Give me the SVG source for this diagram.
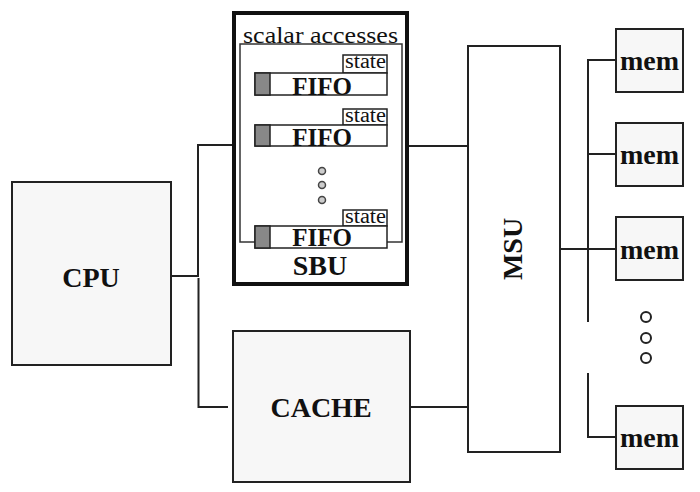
<svg xmlns="http://www.w3.org/2000/svg" width="700" height="492" viewBox="0 0 700 492">
<style>
.box{fill:#f7f7f7;stroke:#222;stroke-width:2}
.wbox{fill:#fff;stroke:#222;stroke-width:2}
.ln{fill:none;stroke:#222;stroke-width:2}
.thin{fill:none;stroke:#333;stroke-width:1.5}
.big{font-family:"Liberation Serif","Times New Roman",serif;font-weight:bold;font-size:28px;fill:#111;text-anchor:middle}
.fifo{font-family:"Liberation Serif","Times New Roman",serif;font-weight:bold;font-size:25px;fill:#111;text-anchor:middle}
.st{font-family:"Liberation Serif","Times New Roman",serif;font-size:20px;fill:#111}
.sa{font-family:"Liberation Serif","Times New Roman",serif;font-size:23px;fill:#111}
.gsq{fill:#888;stroke:#222;stroke-width:1.5}
.fb{fill:#fff;stroke:#222;stroke-width:1.5}
.dotg{fill:#ccc;stroke:#444;stroke-width:1.5}
.dotw{fill:#fff;stroke:#222;stroke-width:2}
</style>
<g id="connectors">
<path class="ln" d="M171,276 H198 V145 H233"/>
<path class="ln" d="M198.5,278 V407 H228"/>
<path class="ln" d="M408,146 H468"/>
<path class="ln" d="M410,407 H468"/>
<path class="ln" d="M560,249 H617"/>
<path class="ln" d="M617,60 H588 V322"/>
<path class="ln" d="M588,154 H617"/>
<path class="ln" d="M588,373 V437 H617"/>
</g>
<g id="cpu">
<rect class="box" x="12" y="182" width="159" height="183"/>
<text class="big" x="91" y="287">CPU</text>
</g>
<g id="sbu">
<rect x="234" y="13" width="173" height="271" fill="#fff" stroke="#111" stroke-width="4"/>
<text class="sa" x="243" y="43" textLength="155" lengthAdjust="spacingAndGlyphs">scalar accesses</text>
<rect class="thin" x="240" y="44" width="162" height="198"/>
<g id="fifo1">
<rect class="fb" x="343" y="55" width="44" height="18"/>
<text class="st" x="345" y="68" textLength="41" lengthAdjust="spacingAndGlyphs">state</text>
<rect class="fb" x="255" y="73" width="132" height="22"/>
<rect class="gsq" x="255" y="73" width="15" height="22"/>
<text class="fifo" x="322" y="95">FIFO</text>
</g>
<g id="fifo2">
<rect class="fb" x="343" y="109" width="44" height="16"/>
<text class="st" x="345" y="122" textLength="41" lengthAdjust="spacingAndGlyphs">state</text>
<rect class="fb" x="255" y="125" width="132" height="21"/>
<rect class="gsq" x="255" y="125" width="15" height="21"/>
<text class="fifo" x="322" y="146">FIFO</text>
</g>
<circle class="dotg" cx="322" cy="171" r="3.5"/>
<circle class="dotg" cx="322" cy="185" r="3.5"/>
<circle class="dotg" cx="322" cy="200" r="3.5"/>
<g id="fifo3">
<rect class="fb" x="343" y="210" width="44" height="16"/>
<text class="st" x="345" y="223" textLength="41" lengthAdjust="spacingAndGlyphs">state</text>
<rect class="fb" x="255" y="226" width="132" height="22"/>
<rect class="gsq" x="255" y="226" width="15" height="22"/>
<text class="fifo" x="322" y="246">FIFO</text>
</g>
<text class="big" x="320" y="275">SBU</text>
</g>
<g id="cache">
<rect class="box" x="233" y="331" width="177" height="151"/>
<text class="big" x="321" y="417">CACHE</text>
</g>
<g id="msu">
<rect class="wbox" x="468" y="46" width="92" height="406"/>
<text class="big" transform="translate(522,249) rotate(-90)">MSU</text>
</g>
<g id="mem1">
<rect class="box" x="616" y="29" width="67" height="63"/>
<text class="big" x="649.5" y="70">mem</text>
</g>
<g id="mem2">
<rect class="box" x="616" y="123" width="67" height="63"/>
<text class="big" x="649.5" y="164">mem</text>
</g>
<g id="mem3">
<rect class="box" x="616" y="217" width="67" height="63"/>
<text class="big" x="649.5" y="259">mem</text>
</g>
<circle class="dotw" cx="646" cy="317" r="5"/>
<circle class="dotw" cx="646" cy="338" r="5"/>
<circle class="dotw" cx="646" cy="358" r="5"/>
<g id="mem4">
<rect class="box" x="616" y="406" width="67" height="63"/>
<text class="big" x="649.5" y="447">mem</text>
</g>
</svg>
